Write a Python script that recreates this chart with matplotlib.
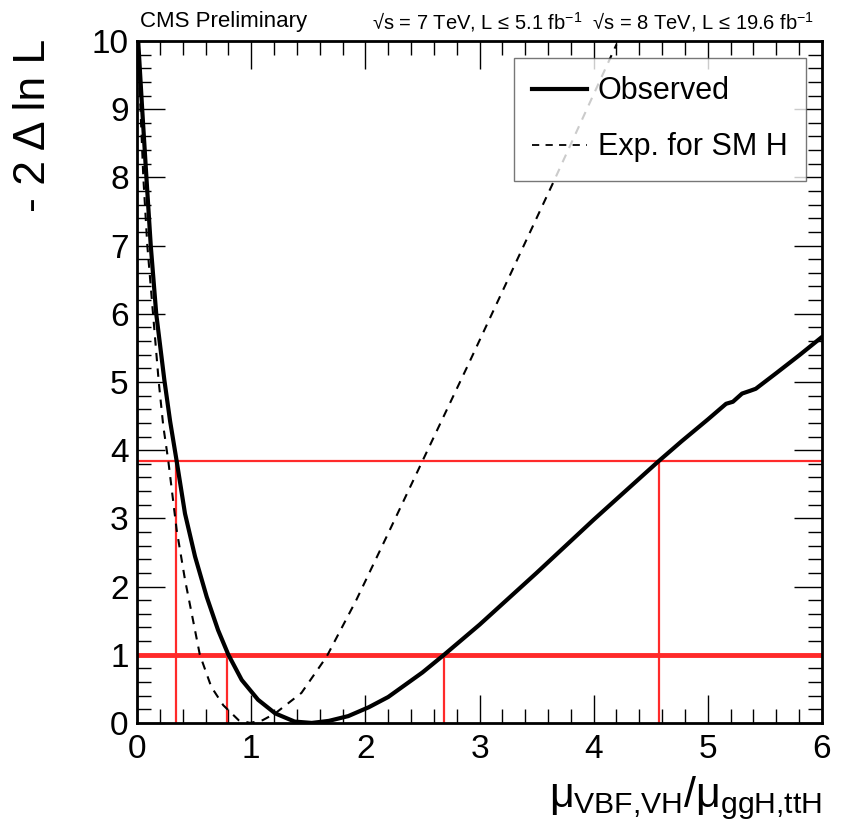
import matplotlib
matplotlib.use("Agg")
import matplotlib.pyplot as plt
from matplotlib.ticker import MultipleLocator
from matplotlib.lines import Line2D

plt.rcParams['font.family'] = ['Liberation Sans', 'DejaVu Sans']
plt.rcParams['mathtext.fontset'] = 'custom'
plt.rcParams['mathtext.rm'] = 'Liberation Sans'
plt.rcParams['mathtext.it'] = 'Liberation Sans'
plt.rcParams['mathtext.sf'] = 'Liberation Sans'

# Observed -2 Delta lnL scan
obs_x = [0.01, 0.045, 0.082, 0.12, 0.168, 0.239, 0.29, 0.347, 0.42, 0.508, 0.61,
         0.71, 0.80, 0.917, 1.06, 1.21, 1.38, 1.53, 1.68, 1.85, 2.03,
         2.20, 2.50, 2.69, 3.00, 3.50, 4.00, 4.57, 4.77, 5.00, 5.16, 5.22, 5.30,
         5.37, 5.42, 5.60, 5.80, 6.00]
obs_y = [10.0, 9.0, 8.0, 7.0, 6.0, 5.03, 4.42, 3.84, 3.07, 2.44, 1.85,
         1.36, 1.00, 0.63, 0.34, 0.14, 0.02, 0.0, 0.03, 0.10, 0.23,
         0.38, 0.74, 1.00, 1.44, 2.20, 2.98, 3.84, 4.13, 4.45, 4.68, 4.71, 4.83,
         4.87, 4.90, 5.13, 5.39, 5.66]

# Expected for SM Higgs
exp_x = [0.01, 0.03, 0.055, 0.09, 0.14, 0.19, 0.23, 0.274, 0.347, 0.42, 0.49, 0.55,
         0.65, 0.755, 0.89, 0.99, 1.10, 1.21, 1.44, 1.66, 1.92, 2.20, 2.50, 2.90,
         3.41, 3.65, 4.20]
exp_y = [10.0, 9.0, 8.0, 7.0, 6.0, 5.0, 4.35, 3.84, 2.83, 2.10, 1.51, 1.00,
         0.53, 0.26, 0.04, 0.0, 0.04, 0.14, 0.44, 0.97, 1.80, 2.78, 3.84, 5.25,
         7.08, 7.94, 9.95]

# Confidence-level thresholds and crossing points
cl_levels = [1.0, 3.84]
cl_widths = [3.5, 1.6]
cross_1 = [0.79, 2.69]
cross_384 = [0.34, 4.57]

fig = plt.figure(figsize=(8.46, 8.30), dpi=100)
ax = fig.add_axes([0.162, 0.129, 0.8096, 0.8216])

for lev, lw in zip(cl_levels, cl_widths):
    ax.axhline(lev, color='#ff2a2a', lw=lw, zorder=2)
for xc in cross_1:
    ax.plot([xc, xc], [0, 1.0], color='#ff2a2a', lw=1.6, zorder=2)
for xc in cross_384:
    ax.plot([xc, xc], [0, 3.84], color='#ff2a2a', lw=1.6, zorder=2)

ax.plot(exp_x, exp_y, color='black', lw=1.5, ls=(0, (4, 3.5)), zorder=3)
ax.plot(obs_x, obs_y, color='black', lw=3.0, zorder=4,
        solid_joinstyle='round', solid_capstyle='round')

ax.set_xlim(0, 6)
ax.set_ylim(0, 10)
ax.xaxis.set_major_locator(MultipleLocator(1))
ax.xaxis.set_minor_locator(MultipleLocator(0.2))
ax.yaxis.set_major_locator(MultipleLocator(1))
ax.yaxis.set_minor_locator(MultipleLocator(0.2))
ax.tick_params(which='both', direction='in', top=True, right=True, width=1.0, color='black')
ax.tick_params(which='major', length=20, labelsize=24)
ax.tick_params(which='minor', length=10)
ax.tick_params(axis='x', pad=8)
ax.tick_params(axis='y', pad=6)
for sp in ax.spines.values():
    sp.set_linewidth(2.0)

fig.text(0.9716, 0.010, r'$\mu_{\mathrm{VBF{,}VH}}/\mu_{\mathrm{ggH{,}ttH}}$',
         ha='right', va='bottom', fontsize=31)
fig.text(0.040, 0.953, '- 2 Δ ln L', rotation=90, ha='center', va='top', fontsize=32)

fig.text(0.166, 0.974, 'CMS Preliminary', fontsize=16, ha='left', va='center')
fig.text(0.440, 0.974, r'√s = 7 TeV, L ≤ 5.1 fb$^{-1}$  √s = 8 TeV, L ≤ 19.6 fb$^{-1}$',
         fontsize=14.5, ha='left', va='center')

handles = [Line2D([], [], color='black', lw=3.0),
           Line2D([], [], color='black', lw=1.3, ls=(0, (4, 3.5)))]
leg = ax.legend(handles, ['Observed', 'Exp. for SM H'], loc='upper right',
                bbox_to_anchor=(0.9766, 0.975), fontsize=22, frameon=True,
                fancybox=False, edgecolor='#555555', handlelength=1.8,
                labelspacing=0.85, borderpad=0.6, handletextpad=0.35,
                borderaxespad=0.0)
leg.get_frame().set_linewidth(1.0)

fig.savefig('out.png', dpi=100)
